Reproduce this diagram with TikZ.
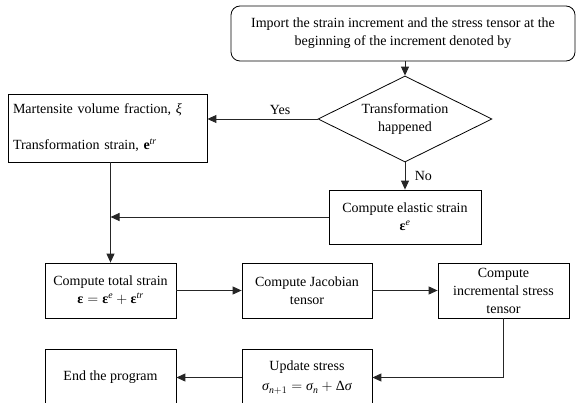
\documentclass[tikz,border=0pt]{standalone}
\usepackage{fontspec}
\setmainfont{Liberation Serif}
\usepackage{amsmath}
\usetikzlibrary{shapes.geometric,arrows.meta}
\tikzset{
  x=1pt, y=-1pt,
  txt/.style={font=\fontsize{14}{18}\selectfont},
  boxx/.style={txt, draw, line width=0.8pt, rectangle, align=center, inner sep=2pt},
  conn/.style={line width=0.9pt, draw=black!85},
  arr/.style={conn, -{Triangle[length=9pt,width=8pt]}},
}
\begin{document}
\begin{tikzpicture}
\useasboundingbox (0,0) rectangle (577,403);
\node[boxx, rounded corners=9pt, minimum width=344pt, minimum height=55pt] (top) at (403,33.5)
  {Import the strain increment and the stress tensor at the\\beginning of the increment denoted by};
\node[txt, draw, line width=0.8pt, diamond, aspect=2, inner sep=0pt, minimum width=174pt, minimum height=86pt, align=center] (dia) at (405,119)
  {Transformation\\happened};
\node[boxx, align=left, text width=189pt, inner sep=5pt, minimum height=68pt] (mart) at (107.5,128)
  {Martensite volume fraction, \textit{ξ}\\[18pt]Transformation strain, \textbf{e}\textsuperscript{\textit{tr}}};
\node[boxx, minimum width=152pt, minimum height=54pt] (ela) at (405,217)
  {Compute elastic strain\\$\textbf{ε}^{\textit{e}}$};
\node[boxx, minimum width=131pt, minimum height=55pt] (tot) at (110.5,290.5)
  {Compute total strain\\$\textbf{ε}=\textbf{ε}^{\textit{e}}+\textbf{ε}^{\textit{tr}}$};
\node[boxx, minimum width=130pt, minimum height=55pt] (jac) at (307,290.5)
  {Compute Jacobian\\tensor};
\node[boxx, minimum width=131pt, minimum height=55pt] (inc) at (503.5,290.5)
  {Compute\\incremental stress\\tensor};
\node[boxx, minimum width=130pt, minimum height=57pt] (upd) at (307,377.5)
  {Update stress\\[2pt]$\textit{σ}_{\textit{n}+1}=\textit{σ}_{\textit{n}}+\text{Δ}\textit{σ}$};
\node[boxx, minimum width=131pt, minimum height=57pt] (endp) at (110.5,377.5)
  {End the program};
\coordinate (join) at (tot.north |- ela.west);
\draw[arr] (dia.north |- top.south) -- (dia.north);
\draw[arr] (dia.west) -- node[txt, pos=0.34, above=1pt] {Yes} (dia.west -| mart.east);
\draw[arr] (dia.south) -- node[txt, right=6pt] {No} (ela.north);
\draw[arr] (tot.north |- mart.south) -- (tot.north);
\draw[arr] (ela.west) -- (join);
\draw[arr] (tot.east) -- (jac.west);
\draw[arr] (jac.east) -- (inc.west);
\draw[arr] (inc.south) |- (upd.east);
\draw[arr] (upd.west) -- (endp.east);
\end{tikzpicture}
\end{document}
